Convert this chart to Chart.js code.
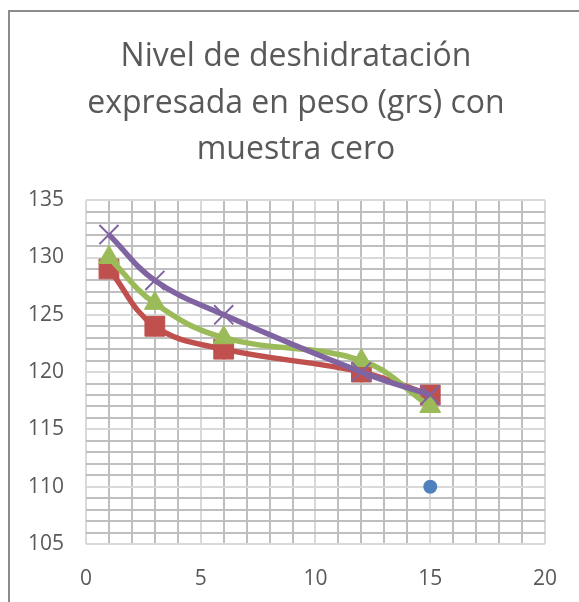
<!DOCTYPE html>
<html>
<head>
<meta charset="utf-8">
<script src="https://cdn.jsdelivr.net/npm/chart.js@4.4.1/dist/chart.umd.min.js"></script>
<style>
  html, body { margin: 0; padding: 0; background: #fff; }
  #wrap { width: 579px; height: 602px; }
</style>
</head>
<body>
<div id="wrap"><canvas id="deshidChart" width="579" height="602"></canvas></div>
<script>
// valores
const dias = [1, 3, 6, 12, 15];
const muestraCero = [null, null, null, null, 110];
const serieRoja = [129, 124, 122, 120, 118];
const serieVerde = [130, 126, 123, 121, 117];
const serieMorada = [132, 128, 125, 120, 118];

const xMin = 0, xMax = 20;
const yMin = 105, yMax = 135;

const tituloLineas = ['Nivel de deshidratación', 'expresada en peso (grs) con', 'muestra cero'];

function toPoints(values) {
    return dias.map((d, i) => ({ x: d, y: values[i] })).filter(p => p.y !== null);
}

const frame = {
    id: 'frame',
    beforeDraw(chart) {
        const c = chart.ctx;
        c.save();
        c.fillStyle = '#fff';
        c.fillRect(0, 0, chart.width, chart.height);
        c.strokeStyle = '#8c8c8c';
        c.lineWidth = 2;
        c.beginPath();
        c.moveTo(9, chart.height);
        c.lineTo(9, 11);
        c.lineTo(chart.width, 11);
        c.stroke();
        c.restore();
    }
};

function gridColor(ctx) {
    if (!ctx.tick) return '#d9d9d9';
    return ctx.tick.value % 5 === 0 ? '#d9d9d9' : '#bfbfbf';
}

const ctx = document.getElementById('deshidChart').getContext('2d');

new Chart(ctx, {
    type: 'line',
    data: {
        datasets: [
            {
                label: 'Serie4',
                data: toPoints(serieMorada),
                borderColor: '#8064A2',
                backgroundColor: '#8064A2',
                borderWidth: 5.5,
                tension: 0.4,
                pointStyle: 'crossRot',
                pointRadius: 13.5,
                pointBorderWidth: 2,
                order: 1
            },
            {
                label: 'Serie3',
                data: toPoints(serieVerde),
                borderColor: '#9BBB59',
                backgroundColor: '#9BBB59',
                borderWidth: 5.5,
                tension: 0.4,
                pointStyle: 'triangle',
                pointRadius: 12,
                pointBorderWidth: 1,
                order: 2
            },
            {
                label: 'Serie2',
                data: toPoints(serieRoja),
                borderColor: '#C0504D',
                backgroundColor: '#C0504D',
                borderWidth: 5.5,
                tension: 0.4,
                pointStyle: 'rect',
                pointRadius: 14,
                pointBorderWidth: 1,
                order: 3
            },
            {
                label: 'Serie1',
                data: toPoints(muestraCero),
                borderColor: '#4F81BD',
                backgroundColor: '#4F81BD',
                showLine: false,
                pointStyle: 'circle',
                pointRadius: 7,
                pointBorderWidth: 0,
                order: 4
            }
        ]
    },
    options: {
        responsive: false,
        animation: false,
        layout: { padding: { left: 22, right: 9, top: 0, bottom: 0 } },
        plugins: {
            legend: { display: false },
            tooltip: { enabled: false },
            title: {
                display: true,
                text: tituloLineas,
                color: '#595959',
                font: { family: 'Open Sans', size: 32, weight: 'normal', lineHeight: 1.45 },
                padding: { top: 34, bottom: 27 }
            }
        },
        scales: {
            x: {
                type: 'linear',
                min: xMin,
                max: xMax,
                afterFit(scale) { scale.height = 58; },
                border: { display: false },
                grid: { color: gridColor, lineWidth: 2, drawTicks: false },
                ticks: {
                    stepSize: 1,
                    autoSkip: false,
                    maxRotation: 0,
                    padding: 22,
                    color: '#595959',
                    font: { family: 'Open Sans', size: 21 },
                    callback: v => (v % 5 === 0 ? v : '')
                }
            },
            y: {
                min: yMin,
                max: yMax,
                afterFit(scale) { scale.width = 64; },
                border: { display: false },
                grid: { color: gridColor, lineWidth: 2, drawTicks: false },
                ticks: {
                    stepSize: 1,
                    autoSkip: false,
                    padding: 22,
                    color: '#595959',
                    font: { family: 'Open Sans', size: 21 },
                    callback: v => (v % 5 === 0 ? v : '')
                }
            }
        }
    },
    plugins: [frame]
});
</script>
</body>
</html>
